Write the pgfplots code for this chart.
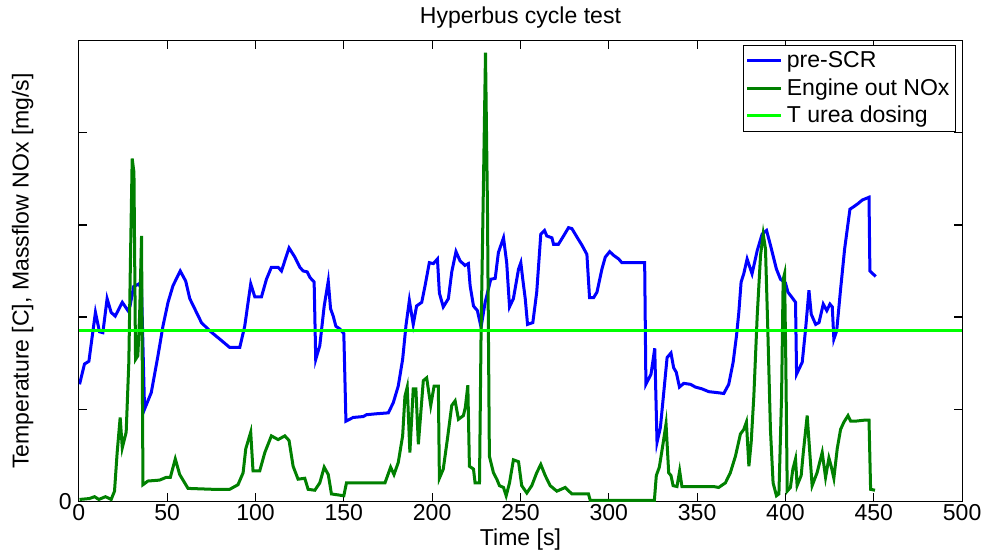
\documentclass[border=0pt]{standalone}
\usepackage{fontspec}
\setmainfont{Liberation Sans}
\usepackage{pgfplots}
\pgfplotsset{compat=1.18}
\newcommand{\fs}{\fontsize{11.5}{13.8}\selectfont}
\definecolor{mblue}{RGB}{0,0,255}
\definecolor{mgreen}{RGB}{0,128,0}
\definecolor{lgreen}{RGB}{0,255,0}
\begin{document}
\begin{tikzpicture}
\begin{axis}[
  width=441pt, height=230pt, scale only axis,
  xmin=0, xmax=500, ymin=0, ymax=500,
  xtick={0,50,...,500},
  ytick={0,100,200,300,400,500},
  yticklabels={0,{},{},{},{},{}},
  tick align=inside,
  major tick length=4pt,
  every tick/.style={black, line width=0.6pt},
  axis line style={line width=0.6pt},
  /pgf/number format/assume math mode=true,
  tick label style={font=\fs},
  xticklabel style={yshift=2pt},
  title={Hyperbus cycle test},
  title style={font=\fs, at={(axis description cs:0.5,1)}, anchor=center, yshift=5.6pt},
  xlabel={Time [s]},
  xlabel style={font=\fs, at={(axis description cs:0.5,0)}, anchor=center, yshift=-19pt},
  ylabel={Temperature [C], Massflow NOx [mg/s]},
  ylabel style={font=\fs, at={(axis description cs:0,0.5)}, anchor=center, rotate=0, yshift=28pt, inner sep=6pt},
  legend style={at={(1,1)}, anchor=north east, xshift=-3pt, yshift=-2pt,
    draw=black, line width=0.6pt, font=\fs, inner sep=1pt, row sep=0pt,
    cells={anchor=west}},
  legend image code/.code={\draw[#1] (0pt,0pt) -- (17pt,0pt);},
]
\addplot[mblue, line width=1.5pt] coordinates {
(0.4,127) (3.2,149) (5.7,152) (9.4,205) (11.7,184) (13.6,183) (16,220) (18.3,205) (20.6,201) (24.6,216) (27.8,207) (29,212) (31,233) (34,236) (35.5,230) (37.2,100)
(41,118) (44.8,158) (47.6,190) (50.5,216) (53.3,234) (57.4,250) (60.5,239) (62.8,220) (69.4,194) (74.1,185) (79.8,176) (85.4,167) (91.1,167) (93.9,190) (97.3,236) (99.6,222) (103.4,222) (106.2,241) (109,254) (112.8,254) (114.7,250) (119,275) (122.3,265) (125.1,254) (127,250) (129.3,249) (130.8,243) (133.2,238) (134.1,154) (136.4,169) (138.9,212) (141.2,239) (142.5,209) (144,201) (145.5,190) (147.8,187) (150,182) (151.2,87) (155.3,91) (161,92) (162.9,94) (168.5,95) (175.2,96) (178,107) (180.8,125) (183.3,154) (185.2,191) (187.1,218) (189.3,192) (191.2,212) (194.1,216) (196,234) (198.4,259) (200.7,258) (203,263) (204.1,226) (206.3,211) (209.2,220) (211.1,249) (213.5,271) (215.8,261) (218.6,256) (220.5,258) (221.5,234) (223.4,212) (225.6,207) (227.7,189) (230,216) (233.2,241) (235.7,242) (237.5,270) (240.4,286) (242.2,259) (243.8,211) (246,220) (248.9,252) (250.2,259) (251.3,241) (252.7,220) (254,192) (257,194) (259.2,227) (261.5,290) (263.6,294) (264.9,288) (267.8,286) (268.7,279) (271.5,279) (274.4,288) (277.2,297) (279.1,296) (281.9,287) (284.8,278) (287.6,268) (289.1,221) (291.4,221) (293.3,227) (296.1,252) (298,265) (300.5,271) (302.7,267) (305.6,263) (307.4,259) (320.3,259) (321,127) (323.9,138) (326,166) (327.3,64) (329.2,80) (331.1,118) (333,156) (335.2,161) (336.7,145) (338.2,140) (340,124) (342.4,128) (346.2,127) (349,124) (352.8,122) (356.6,119) (361.3,118) (365.1,117) (367.9,127) (370.4,151) (372.3,180) (373.6,205) (374.9,238) (376.4,247) (378.3,263) (381.1,247) (384,272) (386.8,290) (389.3,294) (391.5,278) (394.9,252) (397.2,241) (400,237) (401.4,227) (403.8,221) (405.7,216) (406.3,138) (409.5,151) (411.4,187) (413.3,229) (414.6,203) (417.1,192) (419,194) (421.4,214) (423.4,207) (425.2,214) (426.5,211) (427.4,176) (429,185) (431.2,230) (433.5,274) (436.5,317) (438.8,320) (441,323) (443.5,327) (447.3,330) (447.8,250) (451.1,244)
};
\addlegendentry{pre-SCR}
\addplot[mgreen, line width=1.5pt] coordinates {
(0.4,2) (6,3) (8.9,5) (11.3,2) (15.1,5) (18.3,2) (20.2,11) (21.7,53) (23.4,91) (24.6,58) (26.8,75) (28.3,151) (29.2,259) (30.2,372) (31.2,357) (32.1,154) (33.4,158) (34.4,201) (35.5,288) (36.3,18) (39.1,22) (45.7,23) (49.5,26) (51.8,26) (54.6,46) (57.1,29) (61.8,14) (76,13) (85.4,13) (90.1,18) (93,31) (94.5,57) (97.3,75) (98.6,33) (102.4,33) (105.3,53) (109,71) (112.8,67) (116.6,71) (119,66) (121.3,38) (124.1,24) (127.9,25) (129.8,13) (133.6,12) (136.4,20) (138.9,37) (141.2,29) (143,8) (150,6) (151.5,20) (173.3,20) (176.5,37) (178.4,29) (180.8,42) (183.3,71) (184.6,114) (185.9,124) (187.4,53) (189.3,122) (190.8,122) (192.2,62) (195,131) (196.9,134) (199.2,104) (201.1,125) (203.5,125) (204.1,25) (206.3,35) (208.6,67) (211.1,104) (213,109) (214.9,89) (217.7,93) (218.8,102) (220.2,126) (221.1,38) (223.4,35) (224.3,20) (226.8,20) (227.7,183) (229,339) (230.2,487) (231.3,321) (232.4,49) (234.7,31) (236.6,24) (238.1,17) (240.4,15) (241.9,6) (243.8,20) (246,45) (248.9,43) (250.7,17) (253.6,9) (256.4,17) (259.2,31) (261.5,40) (264,28) (266.8,17) (270.6,11) (275.3,15) (279.1,8) (288.5,8) (289.5,1) (325.8,1) (326.9,28) (328.6,37) (330.5,60) (332.4,84) (333.9,31) (335.2,28) (336.4,17) (338.6,16) (340.1,33) (341.4,16) (359.4,16) (362.2,15) (366,20) (368.8,31) (371.7,49) (374.5,73) (376.4,78) (377.9,86) (379.3,38) (380.6,64) (382.1,114) (384,201) (385.9,267) (387.4,290) (388.7,274) (390,187) (391.5,78) (393,20) (394.9,6) (396.3,8) (397.8,114) (398.7,241) (399.5,247) (400.2,151) (401,11) (402.8,15) (404.2,35) (405.7,46) (406.6,17) (408.9,28) (410,51) (412.3,93) (415.1,17) (417.9,31) (420.8,53) (422.7,26) (424.6,47) (425.9,38) (427.4,25) (429.3,57) (431.2,78) (433.1,86) (435.4,93) (436.9,87) (439.7,87) (444.4,88) (447.3,88) (448.2,13) (450.7,12)
};
\addlegendentry{Engine out NOx}
\addplot[lgreen, line width=1.5pt] coordinates {(0,185) (500,185)};
\addlegendentry{T urea dosing}
\end{axis}
\end{tikzpicture}
\end{document}
